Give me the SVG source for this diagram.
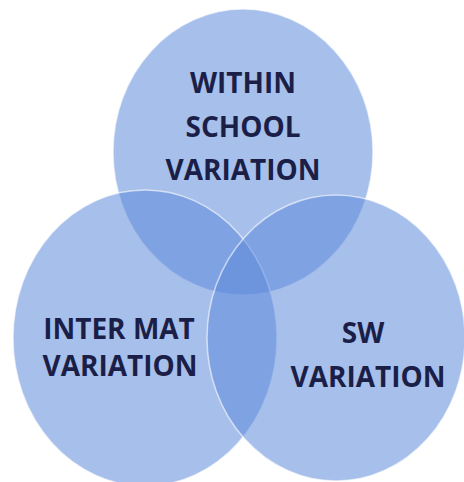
<svg xmlns="http://www.w3.org/2000/svg" width="464" height="482" viewBox="0 0 464 482">
<style>
.c{fill:rgb(95,138,218);fill-opacity:0.55;stroke:#ffffff;stroke-opacity:0.6;stroke-width:1.5}
.t{font-family:"Open Sans","Liberation Sans",sans-serif;font-weight:700;font-size:28px;fill:#1b1f48;text-anchor:middle}
</style>
<rect width="464" height="482" fill="#ffffff"/>
<g id="within">
<ellipse class="c" cx="243" cy="152" rx="130" ry="143"/>
<text class="t" x="243" y="93">WITHIN</text>
<text class="t" x="243" y="137">SCHOOL</text>
<text class="t" x="243" y="180">VARIATION</text>
</g>
<g id="intermat">
<ellipse class="c" cx="145" cy="338" rx="132" ry="148"/>
<text class="t" x="119" y="339">INTER MAT</text>
<text class="t" x="120" y="376">VARIATION</text>
</g>
<g id="sw">
<ellipse class="c" cx="336" cy="338" rx="129" ry="143"/>
<text class="t" x="363" y="343">SW</text>
<text class="t" x="368" y="387">VARIATION</text>
</g>
<g id="connectors"></g>
</svg>
